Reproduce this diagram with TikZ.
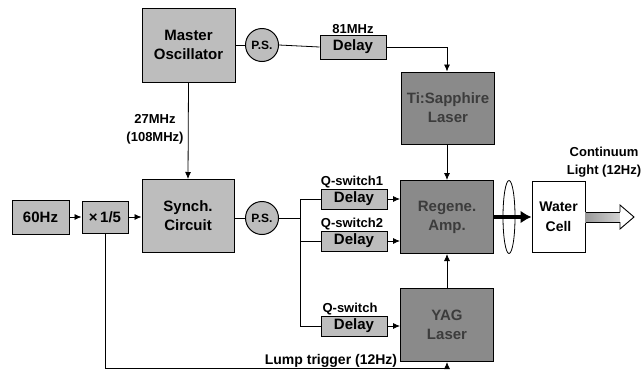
\documentclass[tikz,border=0pt]{standalone}
\usepackage{fontspec}
\setmainfont{Liberation Sans}
\usetikzlibrary{arrows.meta,shapes.geometric}
\definecolor{lg}{HTML}{BDBDBD}
\definecolor{dg}{HTML}{8A8A8A}
\definecolor{dt}{HTML}{3C3C3C}
\begin{document}
\begin{tikzpicture}[x=1pt,y=-1pt,
 every node/.style={inner sep=0pt},
 boxfont/.style={font=\bfseries\fontsize{15}{19}\selectfont},
 lbox/.style={draw, line width=1pt, fill=lg, align=center, boxfont},
 dbox/.style={draw, line width=1pt, fill=dg, text=dt, align=center, boxfont, minimum width=93pt, minimum height=73pt},
 psc/.style={circle, draw, line width=1pt, fill=lg, minimum size=33pt, font=\bfseries\fontsize{12}{14}\selectfont},
 dly/.style={lbox, minimum width=66pt, minimum height=20pt},
 conn/.style={line width=0.8pt},
 arr/.style={conn, -{Latex[length=7pt,width=6pt]}},
 lbl/.style={font=\bfseries\fontsize{13}{18}\selectfont}
]
\useasboundingbox (0,0) rectangle (644,378);
% boxes
\node[lbox, minimum width=93pt, minimum height=74pt] (mo) at (188.5,45) {Master\\Oscillator};
\node[psc] (ps1) at (262,45) {P.S.};
\node[dly, minimum height=24pt] (d81) at (353,47) {Delay};
\node[dbox, minimum height=72pt] (ti) at (448,108) {Ti:Sapphire\\Laser};
\node[lbox, minimum width=92pt, minimum height=73pt] (syn) at (188,216) {Synch.\\Circuit};
\node[lbox, minimum width=57pt, minimum height=34pt] (hz) at (40.5,217) {60Hz};
\node[lbox, minimum width=46pt, minimum height=32pt] (fifth) at (105,217) {×\,1/5};
\node[psc] (ps2) at (262,218) {P.S.};
\node[dly] (dq1) at (354,199) {Delay};
\node[dly] (dq2) at (354,241) {Delay};
\node[dly] (dq3) at (354,326) {Delay};
\node[dbox] (reg) at (447,217) {Regene.\\Amp.};
\node[dbox] (yag) at (447,325) {YAG\\Laser};
\node[ellipse, draw, line width=0.8pt, minimum width=12pt, minimum height=73pt] (lens) at (509,217) {};
\node[draw, line width=1pt, fill=white, minimum width=53pt, minimum height=71pt, align=center, font=\bfseries\fontsize{14}{20}\selectfont] (wc) at (558.5,217) {Water\\Cell};
% labels
\node[lbl, anchor=base] (l81) at (353,33) {81MHz};
\node[lbl, anchor=base] (lq1) at (352,185) {Q-switch1};
\node[lbl, anchor=base] (lq2) at (352,227) {Q-switch2};
\node[lbl, anchor=base] (lq3) at (350,312) {Q-switch};
\node[lbl, align=center] (l27) at (155,129) {27MHz\\(108MHz)};
\node[lbl, anchor=base, font=\bfseries\fontsize{14}{18}\selectfont] (llt) at (331,364) {Lump trigger (12Hz)};
\node[lbl, align=center] (lcont) at (604,162) {Continuum\\Light (12Hz)};
% top chain
\draw[conn] (mo.east) -- (ps1.west);
\draw[conn] (ps1.east) -- (d81.west);
\coordinate (tc) at (447,47);
\draw[arr] (d81.east) -- (tc) -- (ti.north -| tc);
\draw[arr] (mo.south) -- (syn.north);
% left chain
\draw[arr] (hz.east) -- (fifth.west);
\draw[arr] (fifth.east) -- (syn.west |- fifth.east);
\draw[conn] (syn.east |- ps2.west) -- (ps2.west);
% branches
\coordinate (jm) at (300,218);
\coordinate (jt) at (300,199);
\coordinate (jb) at (300,326);
\draw[conn] (ps2.east) -- (jm);
\draw[conn] (jt) -- (jb);
\draw[conn] (jt) -- (dq1.west);
\draw[conn] (jm |- dq2.west) -- (dq2.west);
\draw[conn] (jb) -- (dq3.west);
\draw[arr] (dq1.east) -- (reg.west |- dq1.east);
\draw[arr] (dq2.east) -- (reg.west |- dq2.east);
\draw[arr] (dq3.east) -- (yag.west |- dq3.east);
% lasers to amp
\draw[arr] (ti.south -| tc) -- (reg.north -| tc);
\draw[arr] (yag.north -| tc) -- (reg.south -| tc);
% lump trigger
\coordinate (lt1) at (105,368);
\coordinate (lt2) at (447,368);
\draw[arr] (fifth.south) -- (lt1) -- (lt2) -- (yag.south -| lt2);
% output beam
\draw[line width=4pt, -{Latex[length=11pt,width=13pt]}] (reg.east) -- (wc.west);
\coordinate (oa) at (585,217);
\shade[left color=gray!80, right color=gray!35] (oa) ++(0,-5) rectangle (620,222);
\draw[line width=0.9pt, fill=white] (620,212) -- (620,205) -- (634,217) -- (620,229) -- (620,222);
\draw[line width=0.6pt] (wc.east |- oa) ++(0,-5) -- (620,212);
\draw[line width=0.6pt] (wc.east |- oa) ++(0,5) -- (620,222);
\end{tikzpicture}
\end{document}
